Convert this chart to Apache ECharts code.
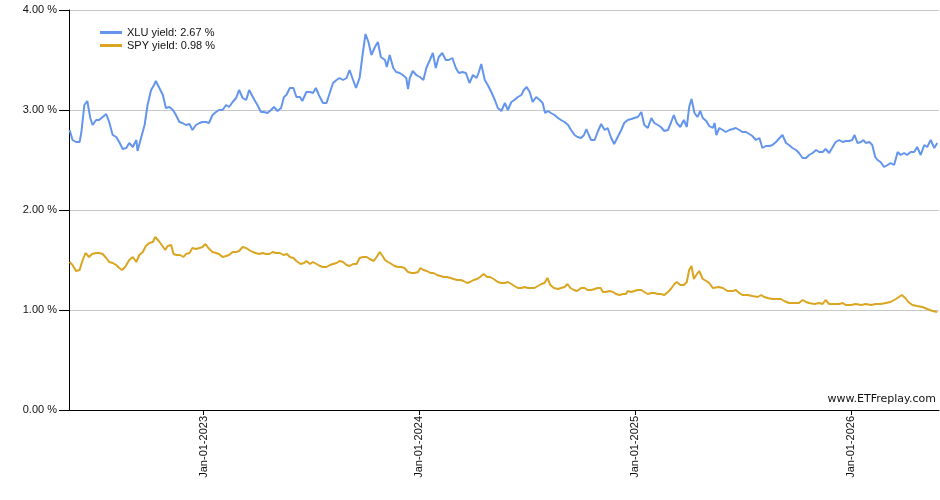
<!DOCTYPE html>
<html>
<head>
<meta charset="utf-8">
<script src="https://cdn.jsdelivr.net/npm/echarts@6/dist/echarts.min.js"></script>
<style>
  html, body { margin: 0; padding: 0; background: #fff; }
  #chart { width: 940px; height: 500px; }
</style>
</head>
<body>
<div id="chart"></div>
<script>
// XLU yield (percent)
const xluDates = [
  '2022-05-19','2022-05-24','2022-05-30','2022-06-05','2022-06-08','2022-06-13','2022-06-18','2022-06-23','2022-06-27','2022-07-03',
  '2022-07-08','2022-07-14','2022-07-20','2022-07-25','2022-07-31','2022-08-06','2022-08-11','2022-08-17','2022-08-23','2022-08-28',
  '2022-09-03','2022-09-09','2022-09-11','2022-09-17','2022-09-23','2022-09-28','2022-10-04','2022-10-09','2022-10-12','2022-10-18',
  '2022-10-24','2022-10-29','2022-11-04','2022-11-10','2022-11-15','2022-11-21','2022-11-26','2022-12-02','2022-12-08','2022-12-13',
  '2022-12-19','2022-12-25','2022-12-30','2023-01-05','2023-01-10','2023-01-16','2023-01-22','2023-01-27','2023-02-02','2023-02-08',
  '2023-02-13','2023-02-19','2023-02-25','2023-03-02','2023-03-08','2023-03-14','2023-03-19','2023-03-22','2023-03-28','2023-04-02',
  '2023-04-08','2023-04-13','2023-04-19','2023-04-25','2023-04-30','2023-05-06','2023-05-12','2023-05-17','2023-05-21','2023-05-27',
  '2023-06-02','2023-06-07','2023-06-13','2023-06-17','2023-06-24','2023-06-30','2023-07-05','2023-07-10','2023-07-15','2023-07-22',
  '2023-07-28','2023-08-03','2023-08-08','2023-08-14','2023-08-19','2023-08-25','2023-08-31','2023-09-05','2023-09-11','2023-09-16',
  '2023-09-22','2023-09-27','2023-10-02','2023-10-07','2023-10-12','2023-10-18','2023-10-23','2023-10-28','2023-11-04','2023-11-07',
  '2023-11-12','2023-11-18','2023-11-23','2023-11-29','2023-12-04','2023-12-10','2023-12-13','2023-12-16','2023-12-21','2023-12-27',
  '2024-01-02','2024-01-08','2024-01-13','2024-01-19','2024-01-24','2024-01-29','2024-02-03','2024-02-09','2024-02-15','2024-02-20',
  '2024-02-26','2024-03-03','2024-03-08','2024-03-14','2024-03-20','2024-03-26','2024-04-01','2024-04-07','2024-04-11','2024-04-15',
  '2024-04-21','2024-04-26','2024-05-02','2024-05-08','2024-05-13','2024-05-19','2024-05-25','2024-05-30','2024-06-05','2024-06-10',
  '2024-06-16','2024-06-22','2024-06-26','2024-07-01','2024-07-06','2024-07-11','2024-07-17','2024-07-23','2024-07-28','2024-08-01',
  '2024-08-06','2024-08-11','2024-08-17','2024-08-23','2024-08-28','2024-09-03','2024-09-09','2024-09-14','2024-09-20','2024-09-25',
  '2024-10-01','2024-10-06','2024-10-10','2024-10-14','2024-10-18','2024-10-24','2024-10-29','2024-11-04','2024-11-10','2024-11-15',
  '2024-11-21','2024-11-26','2024-12-02','2024-12-08','2024-12-13','2024-12-19','2024-12-25','2024-12-30','2025-01-05','2025-01-11',
  '2025-01-13','2025-01-16','2025-01-22','2025-01-28','2025-02-02','2025-02-08','2025-02-13','2025-02-19','2025-02-25','2025-03-02',
  '2025-03-07','2025-03-12','2025-03-18','2025-03-24','2025-03-29','2025-04-02','2025-04-06','2025-04-11','2025-04-16','2025-04-21',
  '2025-04-25','2025-05-01','2025-05-06','2025-05-12','2025-05-15','2025-05-18','2025-05-23','2025-05-29','2025-06-03','2025-06-09',
  '2025-06-15','2025-06-20','2025-06-26','2025-07-01','2025-07-07','2025-07-13','2025-07-18','2025-07-24','2025-07-30','2025-08-04',
  '2025-08-10','2025-08-16','2025-08-21','2025-08-27','2025-09-02','2025-09-07','2025-09-13','2025-09-18','2025-09-24','2025-09-30',
  '2025-10-05','2025-10-11','2025-10-17','2025-10-22','2025-10-28','2025-11-03','2025-11-08','2025-11-14','2025-11-19','2025-11-25',
  '2025-12-01','2025-12-06','2025-12-12','2025-12-18','2025-12-23','2025-12-29','2026-01-03','2026-01-07','2026-01-12','2026-01-18',
  '2026-01-22','2026-01-26','2026-02-01','2026-02-06','2026-02-11','2026-02-15','2026-02-20','2026-02-26','2026-03-04','2026-03-09',
  '2026-03-15','2026-03-21','2026-03-26','2026-04-01','2026-04-06','2026-04-12','2026-04-18','2026-04-23','2026-04-29','2026-05-05',
  '2026-05-10','2026-05-16','2026-05-22','2026-05-27'
];
const xluYield = [
  2.80,2.70,2.68,2.68,2.78,3.05,3.09,2.92,2.85,2.90,
  2.90,2.93,2.96,2.88,2.75,2.73,2.68,2.61,2.62,2.67,
  2.63,2.70,2.59,2.72,2.85,3.05,3.20,3.25,3.29,3.22,
  3.15,3.02,3.03,3.00,2.95,2.88,2.87,2.85,2.86,2.80,
  2.85,2.87,2.88,2.88,2.87,2.95,2.98,3.00,3.00,3.05,
  3.03,3.08,3.12,3.20,3.12,3.10,3.20,3.22,3.10,3.05,
  2.98,2.98,2.97,3.00,3.03,2.99,3.02,3.13,3.15,3.22,
  3.22,3.13,3.13,3.09,3.18,3.18,3.17,3.22,3.15,3.07,
  3.07,3.18,3.27,3.30,3.32,3.30,3.32,3.40,3.30,3.22,
  3.32,3.55,3.76,3.68,3.55,3.63,3.68,3.53,3.50,3.43,
  3.55,3.42,3.38,3.37,3.35,3.32,3.21,3.32,3.39,3.35,
  3.33,3.30,3.42,3.50,3.57,3.42,3.53,3.57,3.50,3.50,
  3.52,3.42,3.37,3.38,3.37,3.27,3.35,3.32,3.38,3.46,
  3.30,3.25,3.18,3.10,3.02,2.99,3.07,3.00,3.08,3.10,
  3.13,3.15,3.20,3.23,3.18,3.08,3.13,3.10,3.07,2.97,
  2.99,2.97,2.95,2.92,2.90,2.88,2.85,2.80,2.75,2.73,
  2.72,2.75,2.81,2.75,2.70,2.70,2.78,2.86,2.80,2.82,
  2.72,2.66,2.73,2.80,2.87,2.90,2.91,2.92,2.93,2.98,
  2.99,2.85,2.82,2.92,2.87,2.85,2.83,2.79,2.80,2.87,
  2.95,2.87,2.83,2.90,2.83,3.03,3.11,2.97,2.93,2.99,
  2.92,2.89,2.84,2.82,2.87,2.75,2.82,2.80,2.78,2.80,
  2.81,2.82,2.80,2.78,2.78,2.76,2.74,2.70,2.72,2.62,
  2.64,2.64,2.65,2.68,2.72,2.75,2.67,2.65,2.62,2.60,
  2.57,2.52,2.52,2.55,2.57,2.60,2.58,2.58,2.61,2.57,
  2.63,2.68,2.70,2.68,2.69,2.69,2.70,2.75,2.67,2.68,
  2.70,2.67,2.68,2.65,2.53,2.50,2.48,2.43,2.45,2.47,
  2.45,2.58,2.55,2.57,2.55,2.58,2.58,2.63,2.55,2.65,
  2.63,2.70,2.62,2.67
];

// SPY yield (percent)
const spyDates = [
  '2022-05-19','2022-05-24','2022-05-30','2022-06-05','2022-06-09','2022-06-15','2022-06-21','2022-06-26','2022-07-03','2022-07-08',
  '2022-07-14','2022-07-20','2022-07-25','2022-07-31','2022-08-06','2022-08-11','2022-08-16','2022-08-21','2022-08-28','2022-09-03',
  '2022-09-09','2022-09-14','2022-09-20','2022-09-25','2022-10-01','2022-10-07','2022-10-11','2022-10-17','2022-10-22','2022-10-28',
  '2022-11-01','2022-11-07','2022-11-11','2022-11-16','2022-11-22','2022-11-28','2022-12-02','2022-12-08','2022-12-13','2022-12-19',
  '2022-12-25','2022-12-30','2023-01-04','2023-01-09','2023-01-16','2023-01-22','2023-01-27','2023-02-02','2023-02-08','2023-02-13',
  '2023-02-19','2023-02-25','2023-03-02','2023-03-08','2023-03-14','2023-03-19','2023-03-25','2023-03-30','2023-04-05','2023-04-11',
  '2023-04-16','2023-04-22','2023-04-28','2023-05-03','2023-05-10','2023-05-16','2023-05-22','2023-05-27','2023-06-02','2023-06-07',
  '2023-06-14','2023-06-20','2023-06-24','2023-06-30','2023-07-05','2023-07-11','2023-07-17','2023-07-22','2023-07-28','2023-08-03',
  '2023-08-08','2023-08-14','2023-08-19','2023-08-25','2023-08-31','2023-09-05','2023-09-11','2023-09-17','2023-09-22','2023-09-28',
  '2023-10-04','2023-10-09','2023-10-16','2023-10-22','2023-10-26','2023-10-31','2023-11-04','2023-11-09','2023-11-15','2023-11-20',
  '2023-11-26','2023-12-02','2023-12-07','2023-12-13','2023-12-19','2023-12-24','2023-12-30','2024-01-03','2024-01-08','2024-01-14',
  '2024-01-20','2024-01-25','2024-01-31','2024-02-06','2024-02-11','2024-02-17','2024-02-23','2024-02-28','2024-03-05','2024-03-11',
  '2024-03-16','2024-03-22','2024-03-27','2024-04-02','2024-04-08','2024-04-13','2024-04-19','2024-04-25','2024-04-30','2024-05-06',
  '2024-05-13','2024-05-19','2024-05-25','2024-05-30','2024-06-05','2024-06-10','2024-06-16','2024-06-22','2024-06-27','2024-07-03',
  '2024-07-09','2024-07-14','2024-07-20','2024-07-26','2024-07-31','2024-08-05','2024-08-10','2024-08-16','2024-08-23','2024-08-28',
  '2024-09-03','2024-09-08','2024-09-13','2024-09-19','2024-09-24','2024-10-01','2024-10-07','2024-10-12','2024-10-18','2024-10-24',
  '2024-10-29','2024-11-03','2024-11-07','2024-11-12','2024-11-18','2024-11-24','2024-11-29','2024-12-05','2024-12-11','2024-12-16',
  '2024-12-19','2024-12-25','2024-12-30','2025-01-05','2025-01-11','2025-01-16','2025-01-22','2025-01-28','2025-02-02','2025-02-08',
  '2025-02-13','2025-02-19','2025-02-25','2025-03-02','2025-03-08','2025-03-12','2025-03-18','2025-03-24','2025-03-29','2025-04-02',
  '2025-04-06','2025-04-10','2025-04-14','2025-04-19','2025-04-25','2025-05-01','2025-05-06','2025-05-12','2025-05-22','2025-05-29',
  '2025-06-06','2025-06-15','2025-06-20','2025-06-26','2025-07-01','2025-07-10','2025-07-18','2025-07-27','2025-08-02','2025-08-07',
  '2025-08-13','2025-08-21','2025-08-30','2025-09-04','2025-09-10','2025-09-18','2025-09-27','2025-10-05','2025-10-11','2025-10-17',
  '2025-10-22','2025-10-31','2025-11-08','2025-11-14','2025-11-19','2025-11-25','2025-12-04','2025-12-12','2025-12-18','2025-12-23',
  '2026-01-01','2026-01-09','2026-01-18','2026-01-26','2026-02-04','2026-02-12','2026-02-20','2026-03-01','2026-03-09','2026-03-18',
  '2026-03-23','2026-03-28','2026-04-03','2026-04-08','2026-04-15','2026-04-23','2026-05-02','2026-05-10','2026-05-19','2026-05-27'
];
const spyYield = [
  1.48,1.45,1.39,1.40,1.48,1.57,1.53,1.56,1.57,1.57,
  1.56,1.52,1.48,1.47,1.45,1.42,1.40,1.43,1.50,1.53,
  1.48,1.55,1.58,1.64,1.67,1.68,1.73,1.69,1.65,1.60,
  1.64,1.65,1.56,1.55,1.55,1.53,1.56,1.57,1.62,1.61,
  1.62,1.63,1.66,1.62,1.58,1.57,1.56,1.53,1.54,1.55,
  1.58,1.58,1.59,1.63,1.62,1.60,1.58,1.57,1.56,1.57,
  1.56,1.56,1.58,1.57,1.57,1.55,1.56,1.53,1.52,1.49,
  1.46,1.47,1.49,1.46,1.48,1.46,1.44,1.43,1.43,1.45,
  1.46,1.47,1.49,1.48,1.45,1.44,1.46,1.46,1.52,1.53,
  1.53,1.51,1.49,1.54,1.58,1.54,1.50,1.48,1.46,1.44,
  1.43,1.43,1.42,1.38,1.37,1.37,1.38,1.42,1.40,1.39,
  1.37,1.37,1.35,1.34,1.33,1.33,1.32,1.31,1.30,1.30,
  1.29,1.27,1.28,1.30,1.31,1.33,1.36,1.33,1.33,1.31,
  1.28,1.27,1.27,1.28,1.26,1.24,1.22,1.22,1.23,1.22,
  1.22,1.22,1.24,1.26,1.27,1.32,1.25,1.22,1.21,1.22,
  1.23,1.26,1.22,1.20,1.19,1.22,1.22,1.20,1.20,1.21,
  1.22,1.22,1.18,1.18,1.19,1.18,1.16,1.15,1.16,1.16,
  1.19,1.18,1.19,1.20,1.20,1.18,1.16,1.17,1.17,1.16,
  1.16,1.15,1.18,1.21,1.26,1.28,1.25,1.25,1.28,1.40,
  1.44,1.31,1.35,1.39,1.31,1.29,1.27,1.22,1.23,1.22,
  1.19,1.19,1.20,1.17,1.15,1.15,1.14,1.13,1.15,1.13,
  1.12,1.11,1.11,1.11,1.09,1.07,1.07,1.07,1.10,1.08,
  1.07,1.06,1.07,1.06,1.10,1.06,1.06,1.06,1.07,1.05,
  1.05,1.06,1.05,1.06,1.05,1.06,1.06,1.07,1.08,1.11,
  1.13,1.15,1.12,1.08,1.05,1.04,1.03,1.01,0.99,0.98
];

const seriesNames = ['XLU yield: 2.67 %', 'SPY yield: 0.98 %'];
const tickDates = ['2023-01-01', '2024-01-01', '2025-01-01', '2026-01-01'];
const tickLabels = ['Jan-01-2023', 'Jan-01-2024', 'Jan-01-2025', 'Jan-01-2026'];
const axisStart = '2022-05-18';
const axisEnd = '2026-05-30';

const toTime = s => new Date(s + 'T00:00:00').getTime();
const tickTimes = tickDates.map(toTime);
const zip = (d, v) => d.map((s, i) => [toTime(s), v[i]]);

const font = '"Liberation Sans", Arial, sans-serif';
const textColor = '#111';
const chart = echarts.init(document.getElementById('chart'));

chart.setOption({
  animation: false,
  backgroundColor: '#fff',
  grid: { left: 69, right: 1, top: 10, bottom: 90 },
  legend: {
    orient: 'vertical',
    left: 95,
    top: 22,
    icon: 'rect',
    itemWidth: 22,
    itemHeight: 3,
    itemGap: 2,
    selectedMode: false,
    textStyle: { fontSize: 11, color: textColor, fontFamily: font },
    data: seriesNames
  },
  // dates are plotted on a linear axis of timestamps so the yearly ticks can be placed exactly
  xAxis: {
    type: 'value',
    scale: true,
    min: toTime(axisStart),
    max: toTime(axisEnd),
    axisLine: { onZero: false, lineStyle: { color: '#000', width: 1 } },
    axisTick: { customValues: tickTimes, length: 5, lineStyle: { color: '#000' } },
    axisLabel: {
      customValues: tickTimes,
      rotate: 90,
      margin: 6,
      fontSize: 11,
      color: textColor,
      fontFamily: font,
      formatter: val => {
        let best = 0;
        tickTimes.forEach((t, i) => { if (Math.abs(t - val) < Math.abs(tickTimes[best] - val)) best = i; });
        return tickLabels[best];
      }
    },
    splitLine: { show: false }
  },
  yAxis: {
    type: 'value',
    min: 0,
    max: 4,
    interval: 1,
    axisLine: { show: true, lineStyle: { color: '#000', width: 1 } },
    axisTick: { show: true, length: 10, lineStyle: { color: '#000' } },
    axisLabel: {
      margin: 12,
      fontSize: 11,
      color: textColor,
      fontFamily: font,
      formatter: v => v.toFixed(2) + ' %'
    },
    splitLine: { lineStyle: { color: '#c8c8c8', width: 1 } }
  },
  graphic: [{
    type: 'text',
    right: 4,
    top: 394,
    style: { text: 'www.ETFreplay.com', font: '11px "DejaVu Sans", Verdana, sans-serif', fill: textColor }
  }],
  series: [
    {
      name: seriesNames[0],
      type: 'line',
      symbol: 'none',
      color: '#6495ed',
      lineStyle: { width: 2, color: '#6495ed' },
      data: zip(xluDates, xluYield)
    },
    {
      name: seriesNames[1],
      type: 'line',
      symbol: 'none',
      color: '#daa520',
      lineStyle: { width: 2, color: '#daa520' },
      data: zip(spyDates, spyYield)
    }
  ]
});
</script>
</body>
</html>
